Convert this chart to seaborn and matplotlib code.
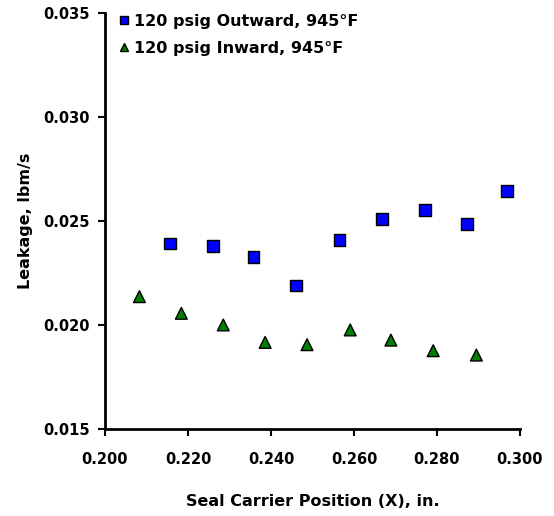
import pandas as pd
import numpy as np
import seaborn as sns
import matplotlib.pyplot as plt

# Values
out_x = [0.2157, 0.2261, 0.2358, 0.2460, 0.2565, 0.2668, 0.2771, 0.2872, 0.2969]
out_y = [0.02391, 0.02378, 0.02327, 0.02189, 0.02406, 0.02507, 0.02551, 0.02486, 0.02643]
in_x = [0.2083, 0.2184, 0.2285, 0.2386, 0.2487, 0.2591, 0.2689, 0.2791, 0.2895]
in_y = [0.02135, 0.02055, 0.01999, 0.01915, 0.01904, 0.01975, 0.01926, 0.01875, 0.01854]
series = ["120 psig Outward, 945°F", "120 psig Inward, 945°F"]
x_ticks = [0.200, 0.220, 0.240, 0.260, 0.280, 0.300]
y_ticks = [0.015, 0.020, 0.025, 0.030, 0.035]

df = pd.DataFrame({
    "x": out_x + in_x,
    "y": out_y + in_y,
    "series": [series[0]] * len(out_x) + [series[1]] * len(in_x),
})

sns.set_theme(style="white")
plt.rcParams['font.family'] = ['DejaVu Sans']
plt.rcParams['font.weight'] = 'bold'
plt.rcParams['text.color'] = 'black'
plt.rcParams['axes.labelcolor'] = 'black'
plt.rcParams['xtick.color'] = 'black'
plt.rcParams['ytick.color'] = 'black'
fs = 10.5
fs_lab = 11.5

fig = plt.figure(figsize=(5.54, 5.16), dpi=100)
ax = fig.add_axes([0.1895, 0.1692, 0.749, 0.806])

sns.scatterplot(
    data=df, x="x", y="y", hue="series", style="series",
    palette={series[0]: "#0000FF", series[1]: "#008000"},
    markers={series[0]: "s", series[1]: "^"},
    s=72, edgecolor="black", linewidth=1.0, ax=ax,
)

ax.set_xlim(0.200, 0.300)
ax.set_ylim(0.015, 0.035)
ax.set_xticks(x_ticks)
ax.set_yticks(y_ticks)
ax.set_xticklabels([f"{t:.3f}" for t in x_ticks], fontsize=fs, fontweight='bold')
ax.set_yticklabels([f"{t:.3f}" for t in y_ticks], fontsize=fs, fontweight='bold')
ax.tick_params(axis='both', direction='out', length=5, width=1.5, colors='black',
               bottom=True, left=True)
ax.tick_params(axis='x', pad=12)
ax.tick_params(axis='y', pad=6)

for side in ['top', 'right']:
    ax.spines[side].set_visible(False)
for side in ['left', 'bottom']:
    ax.spines[side].set_linewidth(2)
    ax.spines[side].set_color('black')

ax.set_xlabel("Seal Carrier Position (X), in.", fontsize=fs_lab, fontweight='bold', labelpad=19)
ax.set_ylabel("Leakage, lbm/s", fontsize=fs_lab, fontweight='bold', labelpad=7)

leg = ax.legend(loc='upper left', bbox_to_anchor=(0.0, 1.025), frameon=False,
                prop={'size': fs_lab, 'weight': 'bold'}, handletextpad=0.1,
                labelspacing=0.75, borderaxespad=0.3, handlelength=1.0,
                markerscale=0.75)

fig.savefig("out.png", dpi=100)
